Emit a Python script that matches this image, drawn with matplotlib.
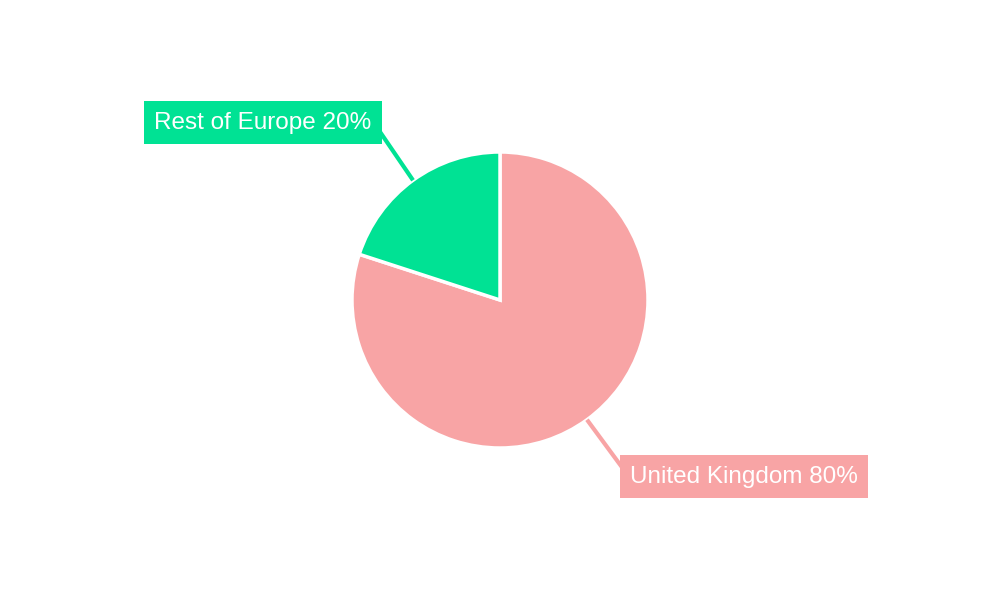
import matplotlib
matplotlib.use("Agg")
import matplotlib.pyplot as plt
import numpy as np

categories = ["United Kingdom", "Rest of Europe"]
values = [80, 20]
colors = ["#F8A4A5", "#00E294"]

# label box centres (pixel coords, y up) and leader-line end points
label_pos = [(744, 600 - 476.5), (263, 600 - 122.5)]
line_end = [(624, 600 - 470), (376, 600 - 126)]

plt.rcParams['font.family'] = ['Liberation Sans', 'DejaVu Sans']
fig = plt.figure(figsize=(10, 6), dpi=100)
ax = fig.add_axes([0, 0, 1, 1])

cx, cy, r = 500, 300, 148
wedges, _ = ax.pie(values, colors=colors, startangle=90, counterclock=False,
                   center=(cx, cy), radius=r, frame=True,
                   wedgeprops=dict(edgecolor='white', linewidth=2.5))
ax.set_xlim(0, 1000)
ax.set_ylim(0, 600)
ax.set_aspect('equal')
ax.axis('off')

total = sum(values)
for w, cat, v, col, lp, le in zip(wedges, categories, values, colors, label_pos, line_end):
    mid = np.deg2rad((w.theta1 + w.theta2) / 2)
    sx, sy = cx + r * np.cos(mid), cy + r * np.sin(mid)
    ax.plot([sx, le[0]], [sy, le[1]], color=col, lw=3, zorder=1, solid_capstyle='butt')
    ax.text(lp[0], lp[1], f"{cat} {round(v / total * 100)}%", ha='center', va='center',
            fontsize=17.5, color='white', zorder=5,
            bbox=dict(boxstyle='square,pad=0.42', fc=col, ec='none'))

fig.savefig("out.png", dpi=100)
